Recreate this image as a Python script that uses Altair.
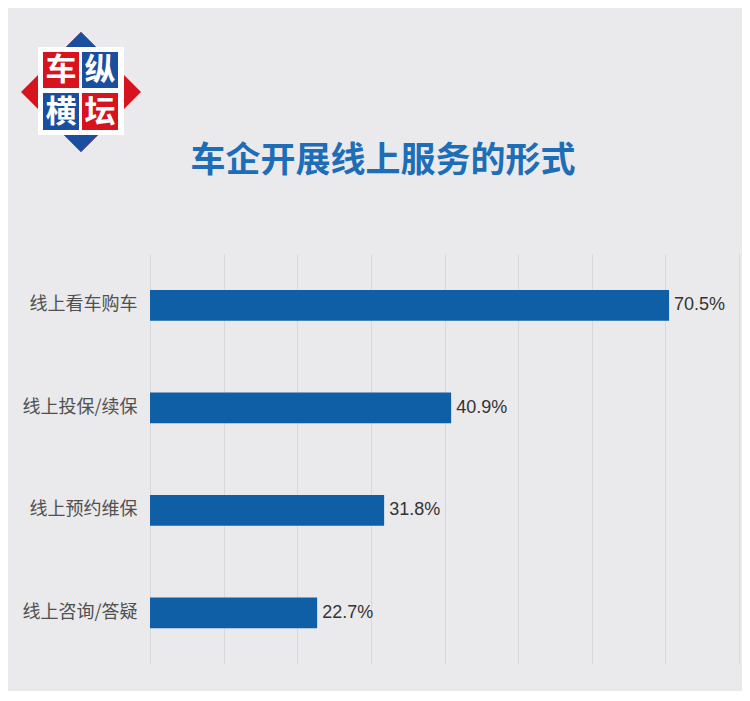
import altair as alt
import pandas as pd

categories = ["线上看车购车", "线上投保/续保", "线上预约维保", "线上咨询/答疑"]
values = [70.5, 40.9, 31.8, 22.7]
title_text = "车企开展线上服务的形式"
logo_chars = ["车", "纵", "横", "坛"]
logo_cell_colors = ["#D7141E", "#1A4FA0", "#1A4FA0", "#D7141E"]

BG = "#EAEAEC"
BAR = "#0E5FA5"

df = pd.DataFrame({"cat": categories, "v": values})
one = pd.DataFrame({"a": [0]})

y_enc = alt.Y(
    "cat:N",
    sort=categories,
    scale=alt.Scale(paddingInner=0.7, paddingOuter=0.35),
    axis=alt.Axis(
        title=None, domain=False, ticks=False, labelPadding=13,
        labelFontSize=18, labelColor="#505050", labelFont="Noto Sans CJK SC",
        grid=False,
    ),
)
x_enc = alt.X(
    "v:Q",
    scale=alt.Scale(domain=[0, 80], nice=False, zero=True),
    axis=alt.Axis(
        title=None, domain=False, ticks=False, labels=False,
        values=list(range(0, 81, 10)), grid=True, gridColor="#D8D8DA", gridWidth=1,
    ),
)

bars = alt.Chart(df).mark_bar(color=BAR).encode(x=x_enc, y=y_enc)
labels = alt.Chart(df).transform_calculate(
    label="format(datum.v, '.1f') + '%'"
).mark_text(
    align="left", baseline="middle", dx=5, fontSize=18,
    font="Liberation Sans", color="#333333",
).encode(x="v:Q", y=alt.Y("cat:N", sort=categories), text="label:N")

# Title as text placed above the plot
title = alt.Chart(one).mark_text(
    text=title_text, fontSize=35, fontWeight="bold", color="#1E6DB7",
    font="Noto Sans CJK SC", align="center", baseline="middle",
).encode(x=alt.value(233), y=alt.value(-93))

# Logo
diamond_red = alt.Chart(one).mark_point(
    shape="M-1,0L0,-1L1,0L0,1Z", filled=True, opacity=1, size=14400,
    color="#D7141E", strokeWidth=0,
).encode(x=alt.value(-69), y=alt.value(-162))
diamond_blue = alt.Chart(one).mark_point(
    shape="M0,0L-0.5,-0.5L0,-1L0.5,-0.5Z M0,0L-0.5,0.5L0,1L0.5,0.5Z",
    filled=True, opacity=1, size=14400, color="#1A4FA0", strokeWidth=0,
).encode(x=alt.value(-69), y=alt.value(-162))
white_sq = alt.Chart(one).mark_rect(color="white").encode(
    x=alt.value(-112), x2=alt.value(-26), y=alt.value(-207), y2=alt.value(-119)
)
cells = [(-107, -71, -202, -166), (-68, -32, -202, -166),
         (-107, -71, -161, -124), (-68, -32, -161, -124)]
logo_layers = [diamond_red, diamond_blue, white_sq]
for (x0, x1, y0, y1), col, ch in zip(cells, logo_cell_colors, logo_chars):
    logo_layers.append(
        alt.Chart(one).mark_rect(color=col).encode(
            x=alt.value(x0), x2=alt.value(x1), y=alt.value(y0), y2=alt.value(y1)
        )
    )
    logo_layers.append(
        alt.Chart(one).mark_text(
            text=ch, fontSize=31, fontWeight="bold", color="white",
            font="Noto Sans CJK SC", align="center", baseline="middle",
        ).encode(x=alt.value((x0 + x1) / 2), y=alt.value((y0 + y1) / 2 + 1))
    )

chart = alt.layer(bars, labels, title, *logo_layers).properties(
    width=589, height=410,
    autosize=alt.AutoSizeParams(type="none"),
    padding={"left": 142, "top": 246, "right": 3, "bottom": 27},
    background=BG,
).configure_view(stroke=None)

chart.save("out.html", embed_options={"renderer": "svg", "actions": False})
